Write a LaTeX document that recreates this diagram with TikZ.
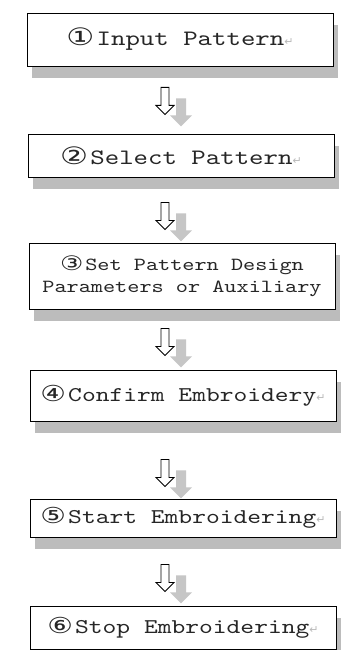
\documentclass[tikz,border=0pt]{standalone}
\usepackage{fontspec}
\newfontfamily\boxfont{lmmono10-regular.otf}[FakeStretch=1.25]
\newfontfamily\circfont{DejaVu Sans}[FakeStretch=1.3]
\newfontfamily\retfont{DejaVu Sans}
\newcommand\cnum[2]{{\circfont\fontsize{#1}{#1}\selectfont #2}\hspace{0.1em}}
\newcommand\retmark{{\retfont\color{gray!55}\fontsize{11}{11}\selectfont ↵}}
\definecolor{shadowgray}{RGB}{188,188,188}
\definecolor{arrowgray}{RGB}{198,198,198}
\usetikzlibrary{shadows,calc}
\tikzset{
  flowbox/.style={draw=black, line width=0.9pt, fill=white, inner sep=0pt,
    minimum width=306pt, text=black!85, align=center,
    general shadow={fill=shadowgray, shadow xshift=5pt, shadow yshift=-12pt}},
  bigtext/.style={font=\boxfont\fontsize{22}{26}\selectfont},
  midtext/.style={font=\boxfont\fontsize{21}{25}\selectfont},
  smalltext/.style={font=\boxfont\fontsize{18.5}{22}\selectfont},
  blockarrow/.pic={
    \fill[arrowgray] (11,11) -- (21,11) -- (21,28) -- (27,28) -- (16,39) -- (5,28) -- (11,28) -- cycle;
    \draw[line width=0.9pt, fill=white, line join=miter] (-4,0) -- (4,0) -- (4,18) -- (9,18) -- (0,27) -- (-9,18) -- (-4,18) -- cycle;
  }
}
\begin{document}
\begin{tikzpicture}[x=1pt,y=-1pt]
\useasboundingbox (0,0) rectangle (350,650);
\clip (0,0) rectangle (350,650);
\fill[white] (0,0) rectangle (350,650);
\node[flowbox, bigtext, minimum height=53pt] (b1) at (180,39.5) {\cnum{24}{①}Input Pattern\retmark};
\node[flowbox, bigtext, minimum height=43pt] (b2) at (181,155.5) {\cnum{24}{②}Select Pattern\retmark};
\node[flowbox, smalltext, minimum height=66pt] (b3) at (182,276) {\cnum{20}{③}Set Pattern Design\\Parameters or Auxiliary};
\node[flowbox, midtext, minimum height=51pt] (b4) at (183,395.5) {\cnum{22}{④}Confirm Embroidery\retmark};
\node[flowbox, midtext, minimum height=38pt] (b5) at (183,518) {\cnum{22}{⑤}Start Embroidering\retmark};
\node[flowbox, midtext, minimum height=43pt] (b6) at (183,627.5) {\cnum{22}{⑥}Stop Embroidering\retmark};
\path (b1.south -| 165,0) ++(0,21) coordinate (a1);
\path (b2.south -| 165,0) ++(0,25) coordinate (a2);
\path (b3.south -| 165,0) ++(0,19) coordinate (a3);
\path (b4.south -| 165,0) ++(0,38) coordinate (a4);
\path (b5.south -| 165,0) ++(0,27) coordinate (a5);
\pic at (a1) {blockarrow};
\pic at (a2) {blockarrow};
\pic at (a3) {blockarrow};
\pic at (a4) {blockarrow};
\pic at (a5) {blockarrow};
\end{tikzpicture}
\end{document}
